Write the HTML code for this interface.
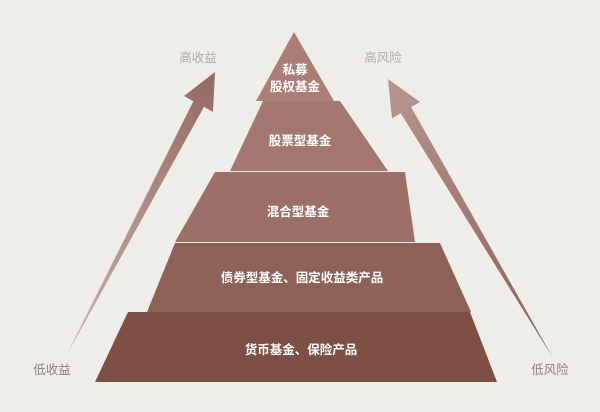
<!DOCTYPE html>
<html><head><meta charset="utf-8"><style>
body{margin:0;background:#efedea;}
svg{display:block}
text{font-family:"Liberation Sans","Noto Sans CJK SC",sans-serif;}
</style></head><body>
<svg width="600" height="412" viewBox="0 0 600 412">
<defs>
<linearGradient id="la" x1="65" y1="358" x2="215" y2="73" gradientUnits="userSpaceOnUse">
<stop offset="0" stop-color="#c9b3ae"/><stop offset="1" stop-color="#946a62"/></linearGradient>
<linearGradient id="ra" x1="553" y1="358" x2="388" y2="80" gradientUnits="userSpaceOnUse">
<stop offset="0" stop-color="#8c5e56"/><stop offset="1" stop-color="#b79590"/></linearGradient>
</defs>
<rect width="600" height="412" fill="#efedea"/>
<polygon points="65,358 193.4,101.2 184,96 215,72 213,112 204,106.8" fill="url(#la)"/>
<polygon points="553,358 400.7,113.2 392,118.5 388,79 420,102 411.1,107" fill="url(#ra)"/>
<polygon points="128,312 470,312 497,382 95,382" fill="#7d4f45"/>
<polygon points="175,243 440,243 471,312 147,312" fill="#8e6158"/>
<polygon points="215,172 405,172 415,242 175,242" fill="#9c6f68"/>
<polygon points="263,101 340,101 388,171 230,171" fill="#a47871"/>
<polygon points="294,32 334,101 256,101" fill="#ab7e77"/>
<g fill="#fff" font-size="12.5" font-weight="bold" text-anchor="middle">
<text x="295" y="74">私募</text>
<text x="295" y="91">股权基金</text>
<text x="300" y="145">股票型基金</text>
<text x="298" y="216">混合型基金</text>
<text x="302" y="282">债券型基金、固定收益类产品</text>
<text x="301" y="354">货币基金、保险产品</text>
</g>
<g font-size="12.5" text-anchor="middle">
<text x="198" y="62" fill="#b9aaa6">高收益</text>
<text x="383" y="62" fill="#b9aaa6">高风险</text>
<text x="52" y="374" fill="#8d7f7b">低收益</text>
<text x="550" y="374" fill="#8d7f7b">低风险</text>
</g>
</svg>
</body></html>
